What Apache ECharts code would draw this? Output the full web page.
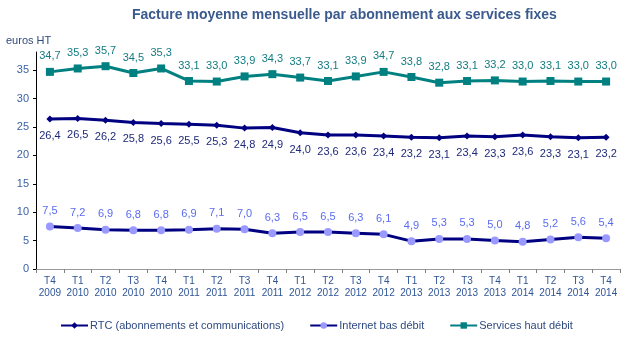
<!DOCTYPE html>
<html><head><meta charset="utf-8">
<script src="https://cdn.jsdelivr.net/npm/echarts@6/dist/echarts.min.js"></script>
<style>html,body{margin:0;padding:0;background:#fff}#c{width:631px;height:339px}</style>
</head><body><div id="c"></div>
<script>
const categories = ["T4\n2009","T1\n2010","T2\n2010","T3\n2010","T4\n2010","T1\n2011","T2\n2011","T3\n2011","T4\n2011","T1\n2012","T2\n2012","T3\n2012","T4\n2012","T1\n2013","T2\n2013","T3\n2013","T4\n2013","T1\n2014","T2\n2014","T3\n2014","T4\n2014"];
const rtc = [26.4,26.5,26.2,25.8,25.6,25.5,25.3,24.8,24.9,24.0,23.6,23.6,23.4,23.2,23.1,23.4,23.3,23.6,23.3,23.1,23.2];
const internetBas = [7.5,7.2,6.9,6.8,6.8,6.9,7.1,7.0,6.3,6.5,6.5,6.3,6.1,4.9,5.3,5.3,5.0,4.8,5.2,5.6,5.4];
const hautDebit = [34.7,35.3,35.7,34.5,35.3,33.1,33.0,33.9,34.3,33.7,33.1,33.9,34.7,33.8,32.8,33.1,33.2,33.0,33.1,33.0,33.0];
const yTicks = [0,5,10,15,20,25,30,35];
const names = ["RTC (abonnements et communications)","Internet bas débit","Services haut débit"];

const font = "Liberation Sans, Arial, sans-serif";
const fmt = p => p.value.toFixed(1).replace('.', ',');
const chart = echarts.init(document.getElementById('c'));
chart.setOption({
  animation:false,
  textStyle:{fontFamily:font},
  title:{text:"Facture moyenne mensuelle par abonnement aux services fixes",left:127,top:3,
    textStyle:{fontFamily:font,fontSize:14,fontWeight:'bold',color:'#3B5A8E'}},
  grid:{left:36,right:11,top:52,bottom:70,containLabel:false},
  legend:{bottom:3,left:55,itemGap:25,itemWidth:27,itemHeight:8,
    textStyle:{fontFamily:font,fontSize:11,color:'#2F4A80',padding:[0,0,0,-3]},
    data:names},
  xAxis:{type:'category',data:categories,boundaryGap:true,
    axisLine:{lineStyle:{color:'#9a9a9a',width:1}},
    axisTick:{show:true,length:4,inside:false,lineStyle:{color:'#808080'}},
    axisLabel:{fontFamily:font,fontSize:10,color:'#2F5597',lineHeight:12,margin:6,interval:0}},
  yAxis:{type:'value',min:0,max:38.2,
    name:'euros HT',nameLocation:'end',nameGap:6,
    nameTextStyle:{fontFamily:font,fontSize:11,color:'#2F4A80',align:'left',padding:[0,0,0,-30]},
    splitLine:{show:false},
    axisLine:{show:true,lineStyle:{color:'#000',width:1}},
    axisTick:{show:true,length:3,customValues:yTicks,lineStyle:{color:'#000'}},
    axisLabel:{fontFamily:font,fontSize:11,color:'#3A62A8',customValues:yTicks,margin:7}},
  series:[
    {name:names[0],type:'line',data:rtc,symbol:'diamond',symbolSize:7,
      lineStyle:{color:'#000080',width:3},itemStyle:{color:'#000080'},
      label:{show:true,position:'bottom',distance:8,formatter:fmt,fontFamily:font,fontSize:11,color:'#1F2A7A'}},
    {name:names[1],type:'line',data:internetBas,symbol:'circle',symbolSize:8,
      lineStyle:{color:'#000080',width:3},itemStyle:{color:'#9999FF'},
      label:{show:true,position:'top',distance:6,formatter:fmt,fontFamily:font,fontSize:11,color:'#5A6CF0'}},
    {name:names[2],type:'line',data:hautDebit,symbol:'rect',symbolSize:8,
      lineStyle:{color:'#008080',width:3},itemStyle:{color:'#008080'},
      label:{show:true,position:'top',distance:6,formatter:fmt,fontFamily:font,fontSize:11,color:'#137C80'}}
  ]
});
</script></body></html>
